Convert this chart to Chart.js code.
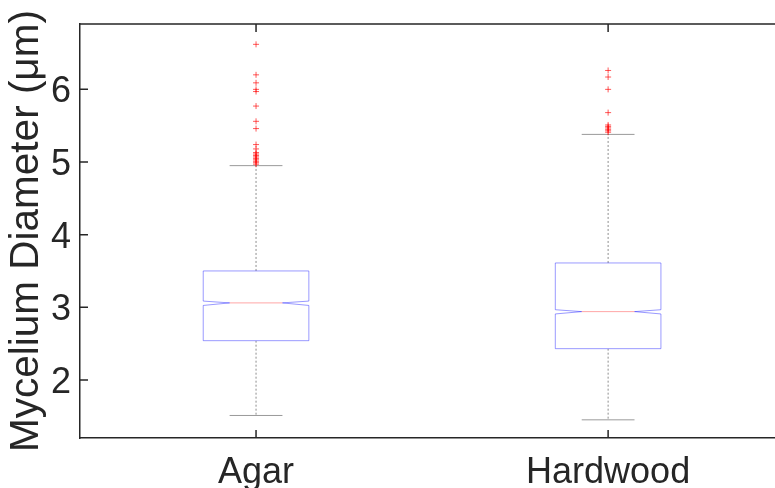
<!DOCTYPE html>
<html>
<head>
<meta charset="utf-8">
<script src="https://cdn.jsdelivr.net/npm/chart.js@4"></script>
<style>
  html, body { margin: 0; padding: 0; background: #fff; overflow: hidden; }
  #wrap { width: 775px; height: 488px; }
</style>
</head>
<body>
<div id="wrap"><canvas id="boxChart"></canvas></div>
<script>
// values
var categories = ['Agar', 'Hardwood'];
var q1 = [2.54, 2.43];
var median = [3.06, 2.94];
var q3 = [3.50, 3.61];
var notchLo = [3.025, 2.908];
var notchHi = [3.085, 2.966];
var whiskerLo = [1.51, 1.45];
var whiskerHi = [4.95, 5.38];
var outliersAgar = [6.62, 6.20, 6.09, 6.00, 5.97, 5.77, 5.56, 5.46, 5.24, 5.18,
    5.13, 5.11, 5.09, 5.07, 5.05, 5.03, 5.01, 4.99, 4.97];
var outliersHardwood = [6.26, 6.17, 6.00, 5.68, 5.51, 5.49, 5.47, 5.45, 5.43, 5.41];
var yTicks = [2, 3, 4, 5, 6];

var axisColor = '#262626';
var fontFam = '"Liberation Sans", Arial, Helvetica, sans-serif';

var outlierPoints = [];
outliersAgar.forEach(function(v){ outlierPoints.push({x: 1, y: v}); });
outliersHardwood.forEach(function(v){ outlierPoints.push({x: 2, y: v}); });

function noPad(scale){
    scale.paddingTop = 0;
    scale.paddingBottom = 0;
    scale.paddingLeft = 0;
    scale.paddingRight = 0;
}

// draws the notched boxes, whiskers and the inward axis ticks
var boxPlugin = {
    id: 'boxPlugin',
    beforeDatasetsDraw: function(chart){
        var ctx = chart.ctx;
        var xs = chart.scales.x, ys = chart.scales.y;
        var half = 0.15, inner = 0.075, cap = 0.075;
        ctx.save();
        for (var i = 0; i < categories.length; i++) {
            var c = i + 1;
            var xl = xs.getPixelForValue(c - half), xr = xs.getPixelForValue(c + half);
            var il = xs.getPixelForValue(c - inner), ir = xs.getPixelForValue(c + inner);
            var xc = xs.getPixelForValue(c);
            var yq1 = ys.getPixelForValue(q1[i]), yq3 = ys.getPixelForValue(q3[i]);
            var ym = ys.getPixelForValue(median[i]);
            var ynl = ys.getPixelForValue(notchLo[i]), ynh = ys.getPixelForValue(notchHi[i]);
            var ywl = ys.getPixelForValue(whiskerLo[i]), ywh = ys.getPixelForValue(whiskerHi[i]);

            // whiskers
            ctx.strokeStyle = 'rgba(0,0,0,0.45)';
            ctx.lineWidth = 1;
            ctx.setLineDash([2, 2]);
            ctx.beginPath();
            ctx.moveTo(xc, yq3); ctx.lineTo(xc, ywh);
            ctx.moveTo(xc, yq1); ctx.lineTo(xc, ywl);
            ctx.stroke();
            ctx.setLineDash([]);
            ctx.strokeStyle = 'rgba(0,0,0,0.4)';
            ctx.beginPath();
            ctx.moveTo(xs.getPixelForValue(c - cap), ywh); ctx.lineTo(xs.getPixelForValue(c + cap), ywh);
            ctx.moveTo(xs.getPixelForValue(c - cap), ywl); ctx.lineTo(xs.getPixelForValue(c + cap), ywl);
            ctx.stroke();

            // notched box
            ctx.strokeStyle = 'rgba(0,0,255,0.4)';
            ctx.fillStyle = '#fff';
            ctx.beginPath();
            ctx.moveTo(xl, yq3);
            ctx.lineTo(xr, yq3);
            ctx.lineTo(xr, ynh);
            ctx.lineTo(ir, ym);
            ctx.lineTo(xr, ynl);
            ctx.lineTo(xr, yq1);
            ctx.lineTo(xl, yq1);
            ctx.lineTo(xl, ynl);
            ctx.lineTo(il, ym);
            ctx.lineTo(xl, ynh);
            ctx.closePath();
            ctx.fill();
            ctx.stroke();

            // median
            ctx.strokeStyle = 'rgba(255,0,0,0.35)';
            ctx.beginPath();
            ctx.moveTo(il, ym); ctx.lineTo(ir, ym);
            ctx.stroke();
        }
        ctx.restore();
    },
    afterDraw: function(chart){
        var ctx = chart.ctx;
        var a = chart.chartArea;
        var xs = chart.scales.x, ys = chart.scales.y;
        var tl = 8;
        ctx.save();
        ctx.strokeStyle = axisColor;
        ctx.lineWidth = 1.5;
        ctx.beginPath();
        // top frame line
        ctx.moveTo(a.left, a.top); ctx.lineTo(a.right, a.top);
        yTicks.forEach(function(v){
            var y = ys.getPixelForValue(v);
            ctx.moveTo(a.left, y); ctx.lineTo(a.left + tl, y);
        });
        categories.forEach(function(n, i){
            var x = xs.getPixelForValue(i + 1);
            ctx.moveTo(x, a.bottom); ctx.lineTo(x, a.bottom - tl);
            ctx.moveTo(x, a.top); ctx.lineTo(x, a.top + tl);
        });
        ctx.stroke();
        ctx.restore();
    }
};

var ctx1 = document.getElementById('boxChart').getContext('2d');
var boxChart = new Chart(ctx1, {
    type: 'scatter',
    data: {
        datasets: [{
            label: 'Outliers',
            data: outlierPoints,
            pointStyle: 'cross',
            pointRadius: 3,
            pointBorderColor: 'rgba(255,0,0,0.65)',
            pointBorderWidth: 1,
            showLine: false
        }]
    },
    options: {
        responsive: true,
        maintainAspectRatio: false,
        animation: false,
        devicePixelRatio: 1,
        layout: { autoPadding: false, padding: { top: 24, left: 0, right: 0, bottom: 0 } },
        plugins: {
            legend: { display: false },
            tooltip: { enabled: false }
        },
        scales: {
            x: {
                type: 'linear',
                min: 0.5,
                max: 2.474,
                grid: { display: false, drawTicks: false },
                border: { display: true, color: axisColor, width: 1.5 },
                afterBuildTicks: function(scale){
                    scale.ticks = categories.map(function(n, i){ return {value: i + 1}; });
                },
                afterFit: function(scale){ scale.height = 50; noPad(scale); },
                ticks: {
                    color: axisColor,
                    padding: 13,
                    maxRotation: 0,
                    autoSkip: false,
                    font: { family: fontFam, size: 36 },
                    callback: function(v){ return categories[v - 1]; }
                }
            },
            y: {
                min: 1.2,
                max: 6.9,
                grid: { display: false, drawTicks: false },
                border: { display: true, color: axisColor, width: 1.5 },
                afterBuildTicks: function(scale){
                    scale.ticks = yTicks.map(function(v){ return {value: v}; });
                },
                afterFit: function(scale){ scale.width = 80; noPad(scale); },
                ticks: {
                    color: axisColor,
                    padding: 9,
                    labelOffset: 3,
                    font: { family: fontFam, size: 36 }
                },
                title: {
                    display: true,
                    text: 'Mycelium Diameter (μm)',
                    color: axisColor,
                    padding: { top: 3, bottom: 0 },
                    font: { family: fontFam, size: 40.5 }
                }
            }
        }
    },
    plugins: [boxPlugin]
});
</script>
</body>
</html>
